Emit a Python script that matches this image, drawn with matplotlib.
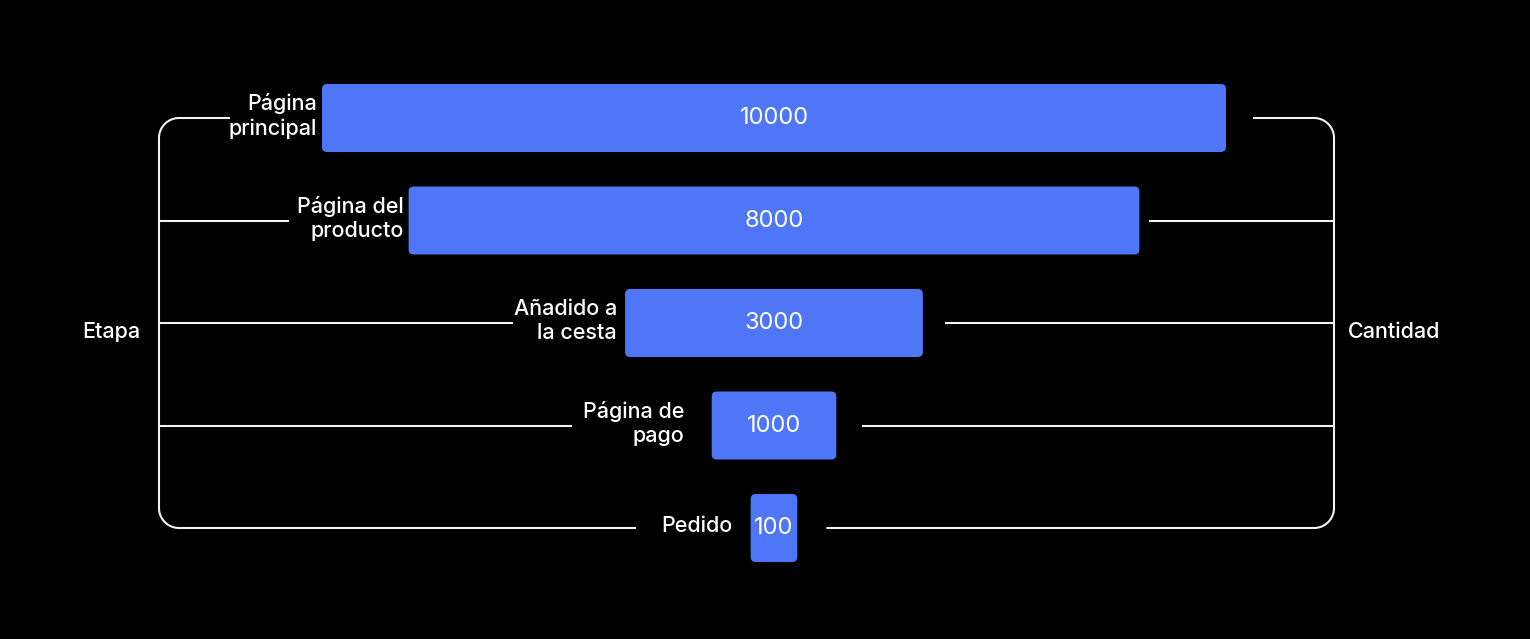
import matplotlib
matplotlib.use('Agg')
import matplotlib.pyplot as plt
from matplotlib.patches import FancyBboxPatch
import numpy as np

# ---- data ----
stages = ["Página\nprincipal", "Página del\nproducto", "Añadido a\nla cesta", "Página de\npago", "Pedido"]
values = [10000, 8000, 3000, 1000, 100]
left_title = "Etapa"
right_title = "Cantidad"

# ---- style / layout ----
plt.rcParams['font.family'] = ['Inter', 'DejaVu Sans']
BAR_COLOR = '#4E76F7'
LINE_COLOR = '#F2F2F2'
W, H = 1530, 639
K = 0.0866          # pixels per value unit
CX = 774            # funnel centre (px)
PAD = 19 / K        # extra half-width added to each bar
ROW0, ROWSTEP = 118, 102.5
BAR_H = 68 / ROWSTEP
BRACKET_L, BRACKET_R, RAD = 159, 1334, 20
left_line_end = [230, 289, 513, 572, 636]     # px, where left connectors stop
right_line_gap = [27, 10, 22, 26, 29]         # px gap after bar right edge
label_gap = [5, 5, 8, 27, 18]                 # px gap between label and bar

fig = plt.figure(figsize=(W / 100, H / 100), dpi=100, facecolor='black')
ax = fig.add_axes([0, 0, 1, 1])
ax.set_facecolor('black')
ax.axis('off')
ax.set_xlim(-CX / K, (W - CX) / K)
ax.set_ylim((H - ROW0) / ROWSTEP, -ROW0 / ROWSTEP)


def px_x(p):
    return (p - CX) / K


def px_y(p):
    return (p - ROW0) / ROWSTEP


def y_px(i):
    return ROW0 + i * ROWSTEP


n = len(values)
# bars, values, labels
for i, (stage, v) in enumerate(zip(stages, values)):
    half = v / 2 + PAD
    patch = FancyBboxPatch((-half, i - BAR_H / 2), 2 * half, BAR_H,
                           boxstyle=f"round,pad=0,rounding_size={5 / K}",
                           mutation_aspect=K / ROWSTEP,
                           facecolor=BAR_COLOR, edgecolor='none', zorder=2)
    ax.add_patch(patch)
    ax.text(0, i, str(v), ha='center', va='center', color='white',
            fontsize=17, zorder=3)
    ax.text(-half - label_gap[i] / K, i - 2 / ROWSTEP, stage, ha='right', va='center',
            color='white', fontsize=15.5, fontweight='medium', linespacing=1.3, zorder=3)

# bracket paths (px space converted to data)
t = np.linspace(0, np.pi / 2, 30)
top, bot = y_px(0), y_px(n - 1)
# left bracket
lx = np.concatenate([[left_line_end[0]], BRACKET_L + RAD - RAD * np.sin(t),
                     BRACKET_L + RAD - RAD * np.cos(t), [left_line_end[-1]]])
ly = np.concatenate([[top], top + RAD - RAD * np.cos(t),
                     bot - RAD + RAD * np.sin(t), [bot]])
ax.plot(px_x(lx), px_y(ly), color=LINE_COLOR, lw=1.5, solid_capstyle='butt', zorder=1)

# right bracket
r_start = [CX + (values[i] / 2 + PAD) * K + right_line_gap[i] for i in range(n)]
rx = np.concatenate([[r_start[0]], BRACKET_R - RAD + RAD * np.sin(t),
                     BRACKET_R - RAD + RAD * np.cos(t), [r_start[-1]]])
ry = ly
ax.plot(px_x(rx), px_y(ry), color=LINE_COLOR, lw=1.5, solid_capstyle='butt', zorder=1)

# middle connectors
for i in range(1, n - 1):
    ax.plot([px_x(BRACKET_L), px_x(left_line_end[i])], [i, i], color=LINE_COLOR,
            lw=1.5, solid_capstyle='butt', zorder=1)
    ax.plot([px_x(r_start[i]), px_x(BRACKET_R)], [i, i], color=LINE_COLOR,
            lw=1.5, solid_capstyle='butt', zorder=1)

# axis titles
ax.text(px_x(140), px_y(332), left_title, ha='right', va='center', color='white',
        fontsize=15.5, fontweight='medium')
ax.text(px_x(1348), px_y(332), right_title, ha='left', va='center', color='white',
        fontsize=15.5, fontweight='medium')

fig.savefig('out.png', dpi=100, facecolor='black')
